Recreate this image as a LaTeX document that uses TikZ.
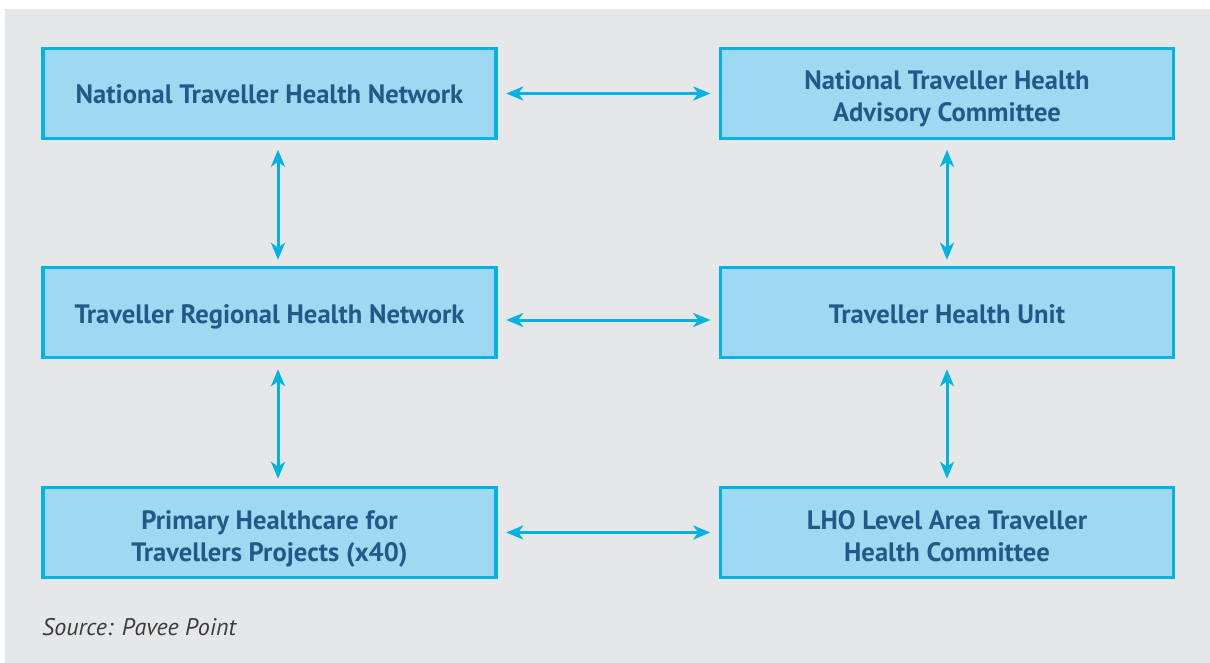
\documentclass[tikz,border=0pt]{standalone}
\usepackage{fontspec}
\setmainfont{PT Sans}
\usetikzlibrary{arrows.meta}
\definecolor{bggray}{HTML}{E6E7E9}
\definecolor{boxfill}{HTML}{9DDAF2}
\definecolor{boxline}{HTML}{00B3E3}
\definecolor{boxtext}{HTML}{215A8A}
\definecolor{srctext}{HTML}{3C3C3C}
\newcommand{\topstrut}{\rule{0pt}{25pt}}
\tikzset{
  orgbox/.style={draw=boxline, fill=boxfill, line width=3.5pt, rectangle,
    minimum width=453pt, minimum height=90pt, inner sep=0pt, align=center,
    text depth=0pt, execute at begin node={\rule{0pt}{21pt}},
    text=boxtext, font=\fontsize{26.6}{32}\selectfont\bfseries},
  link/.style={draw=boxline, line width=3pt,
    {Stealth[length=17pt,width=14pt,inset=5pt]}-{Stealth[length=17pt,width=14pt,inset=5pt]}}
}
\begin{document}
\begin{tikzpicture}[x=1pt,y=-1pt]
\useasboundingbox[fill=white] (0,0) rectangle (1210,663);
\fill[bggray] (5,9) rectangle (1210,663);
\node[orgbox] (nthn)  at (269.5,93.5)  {National Traveller Health Network};
\node[orgbox] (nthac) at (947,93.5)    {\topstrut National Traveller Health\\Advisory Committee};
\node[orgbox] (trhn)  at (269.5,312.5) {Traveller Regional Health Network};
\node[orgbox] (thu)   at (947,312.5)   {Traveller Health Unit};
\node[orgbox] (phc)   at (269.5,532.5) {\topstrut Primary Healthcare for\\Travellers Projects (x40)};
\node[orgbox] (lho)   at (947,532.5)   {\topstrut LHO Level Area Traveller\\Health Committee};
\node[anchor=base west, inner sep=0pt, text=srctext, font=\fontsize{24}{28}\selectfont\itshape] (src) at (42,635) {Source: Pavee Point};
% horizontal links
\draw[link] ([xshift=8.5pt]nthn.east) -- ([xshift=-8.5pt]nthac.west);
\draw[link] ([xshift=8.5pt,yshift=-7.5pt]trhn.east) -- ([xshift=-8.5pt,yshift=-7.5pt]thu.west);
\draw[link] ([xshift=8.5pt]phc.east) -- ([xshift=-8.5pt]lho.west);
% vertical links
\draw[link] ([xshift=8.5pt,yshift=-9.5pt]nthn.south) -- ([xshift=8.5pt,yshift=6pt]trhn.north);
\draw[link] ([xshift=8.5pt,yshift=-10pt]trhn.south) -- ([xshift=8.5pt,yshift=7pt]phc.north);
\draw[link] ([yshift=-9.5pt]nthac.south) -- ([yshift=6pt]thu.north);
\draw[link] ([yshift=-10pt]thu.south) -- ([yshift=7pt]lho.north);
\end{tikzpicture}
\end{document}
